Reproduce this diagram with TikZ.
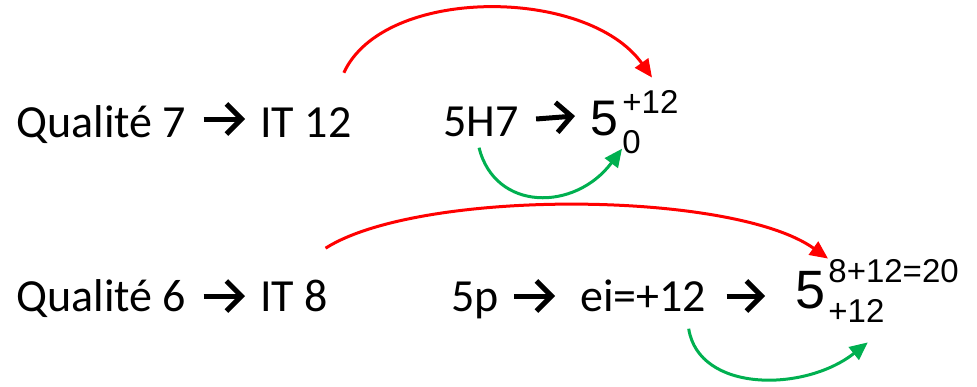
\documentclass[tikz,border=0pt]{standalone}
\usepackage{fontspec}
\setmainfont{Carlito}
\newfontfamily\arialfont{Liberation Sans}
\usepackage{xcolor}
\usepackage{tikz}
\usetikzlibrary{arrows.meta}
\definecolor{arcred}{HTML}{FF0000}
\definecolor{arcgreen}{HTML}{00B050}

\tikzset{
  txt/.style={anchor=base west, inner sep=0pt, font=\fontsize{23}{28}\selectfont},
  bigfive/.style={anchor=base west, inner sep=0pt, font=\arialfont\fontsize{25}{30}\selectfont},
  idx/.style={anchor=base west, inner sep=0pt, font=\arialfont\fontsize{16.5}{20}\selectfont},
  symarrow/.style={black, line width=2.5pt, -{Straight Barb[length=7.5pt,width=15pt]}},
  redarc/.style={arcred, line width=1.5pt, -{Triangle[length=9pt,width=8pt]}},
  greenarc/.style={arcgreen, line width=1.5pt, -{Triangle[length=9pt,width=8pt]}}
}

\begin{document}
\begin{tikzpicture}[x=0.5pt, y=-0.5pt]
\useasboundingbox (0,0) rectangle (977,386);
% plain text
\foreach \n/\x/\y/\t in {q1/16/137/Qualité 7, it1/260/137/IT 12, h1/443/136/5H7,
                         q2/16/311/Qualité 6, it2/260/311/IT 8, p2/451/311/5p, ei2/580/311/ei=+12} {
  \node[txt] (\n) at (\x,\y) {\t};
}
% fives with indices
\node[bigfive] (five1) at (590,135) {5};
\node[idx] (sup1) at (622,113) {+12};
\node[idx] (sub1) at (622,153) {0};
\node[bigfive, font=\arialfont\fontsize{27}{32}\selectfont] (five2) at (795,308) {5};
\node[idx] (sup2) at (828,282) {8+12=20};
\node[idx] (sub2) at (828,322) {+12};
% bold arrows between words
\draw[symarrow] ([xshift=8.5pt,yshift=9pt]q1.base east) -- ([xshift=-7.5pt,yshift=9pt]it1.base west);
\draw[symarrow] ([xshift=8.5pt,yshift=8.5pt]h1.base east) -- ([xshift=-7.5pt,yshift=9.5pt]five1.base west);
\draw[symarrow] ([xshift=8.5pt,yshift=7.5pt]q2.base east) -- ([xshift=-7.5pt,yshift=7.5pt]it2.base west);
\draw[symarrow] ([xshift=7.5pt,yshift=7.5pt]p2.base east) -- ([xshift=-12.5pt,yshift=7.5pt]ei2.base west);
\draw[symarrow] ([xshift=10pt,yshift=7.5pt]ei2.base east) -- ([xshift=-15pt,yshift=6pt]five2.base west);
% curved arrows
\draw[redarc] ([xshift=-4pt,yshift=17pt]it1.north east) .. controls +(40,-87) and +(-65,-91) .. ([xshift=15pt,yshift=6pt]sup1.north west);
\draw[greenarc] ([xshift=-1pt,yshift=-5.5pt]h1.south) .. controls +(16,64) and +(-47,63) .. ([yshift=2.5pt]sub1.south west);
\draw[redarc] ([xshift=-1.5pt,yshift=15.5pt]it2.north east) .. controls +(95,-60) and +(-95,-68) .. (sup2.north west);
\draw[greenarc] ([xshift=-9pt,yshift=-8.5pt]ei2.south east) .. controls +(10,64) and +(-63,50) .. ([xshift=-8.5pt,yshift=-10pt]sub2.south east);
\end{tikzpicture}
\end{document}
